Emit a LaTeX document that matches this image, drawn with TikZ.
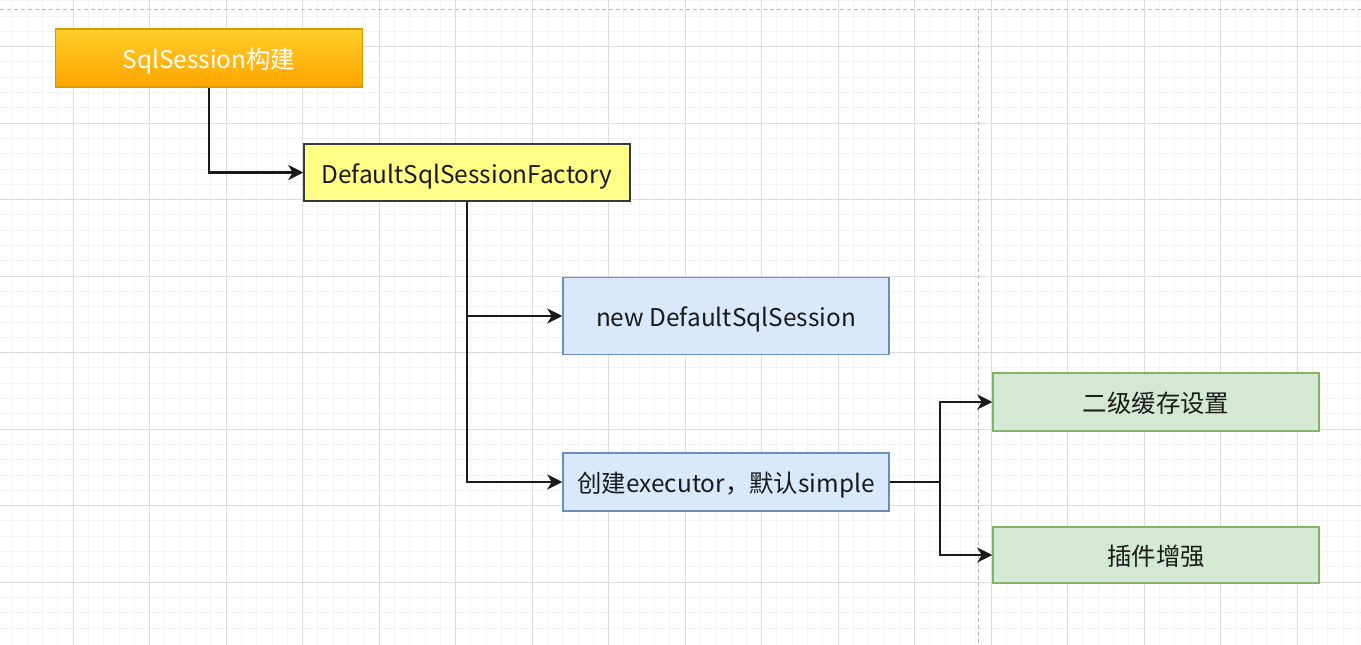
\documentclass[tikz,border=0pt]{standalone}
\usepackage{fontspec}
\setmainfont{Noto Sans CJK SC}
\usetikzlibrary{arrows.meta}

\definecolor{orangetop}{HTML}{FFCD28}
\definecolor{orangebot}{HTML}{FFA500}
\definecolor{orangeline}{HTML}{D79B00}
\definecolor{yellowfill}{HTML}{FFFF88}
\definecolor{yellowline}{HTML}{36393D}
\definecolor{bluefill}{HTML}{DAE8FC}
\definecolor{blueline}{HTML}{6C8EBF}
\definecolor{greenfill}{HTML}{D5E8D4}
\definecolor{greenline}{HTML}{82B366}
\definecolor{inkcolor}{HTML}{1A1A1A}
\definecolor{gridmajor}{HTML}{DCDCDC}
\definecolor{gridminor}{HTML}{F3F3F3}

\begin{document}
\begin{tikzpicture}[x=1pt,y=-1pt,
    box/.style={rectangle, inner sep=0pt, line width=1.5pt, text=inkcolor,
      minimum width=326pt, minimum height=58pt, text height=23pt, text depth=2pt,
      font=\fontsize{24.4}{28}\selectfont},
    startbox/.style={box, draw=orangeline, top color=orangetop, bottom color=orangebot,
      text=white, minimum width=307pt},
    factorybox/.style={box, draw=yellowline, fill=yellowfill, minimum height=57pt},
    stepbox/.style={box, draw=blueline, fill=bluefill},
    leafbox/.style={box, draw=greenline, fill=greenfill},
    link/.style={draw=inkcolor, line width=2.2pt,
      -{Stealth[length=15pt, width=15pt, inset=4.5pt]}}]
    \useasboundingbox (0,0) rectangle (1361,645);
    \fill[white] (0,0) rectangle (1361,645);
    % background grid
    \foreach \gx in {0,...,90}
      \draw[gridminor, line width=0.8pt] ({-3.5+\gx*15.3},0) -- ({-3.5+\gx*15.3},645);
    \foreach \gy in {0,...,43}
      \draw[gridminor, line width=0.8pt] (0,{-30+\gy*15.3}) -- (1361,{-30+\gy*15.3});
    \foreach \gx in {0,...,18}
      \draw[gridmajor, line width=0.8pt] ({-3.5+\gx*76.5},0) -- ({-3.5+\gx*76.5},645);
    \foreach \gy in {0,...,9}
      \draw[gridmajor, line width=0.8pt] (0,{-30+\gy*76.5}) -- (1361,{-30+\gy*76.5});
    % page borders
    \draw[gray!55, line width=1pt, dash pattern=on 4pt off 3pt] (0,9) -- (1361,9);
    \draw[gray!55, line width=1pt, dash pattern=on 4pt off 3pt] (978,9) -- (978,645);

    \node[startbox] (build) at (209,58) {SqlSession构建};
    \node[factorybox] (factory) at (467,172.5) {DefaultSqlSessionFactory};
    \node[stepbox, minimum height=77pt] (newsession) at (726,316) {new DefaultSqlSession};
    \node[stepbox] (executor) at (726,482) {创建executor，默认simple};
    \node[leafbox] (cache) at (1156,402) {二级缓存设置};
    \node[leafbox, minimum height=56pt] (plugin) at (1156,555) {插件增强};
    \coordinate (fork) at (940,482);

    \draw[link] (build.south) |- (factory.west);
    \draw[link] (factory.south) |- (newsession.west);
    \draw[link] (factory.south) |- (executor.west);
    \draw[link] (executor.east) -- (fork) |- (cache.west);
    \draw[link] (executor.east) -- (fork) |- (plugin.west);
\end{tikzpicture}
\end{document}
